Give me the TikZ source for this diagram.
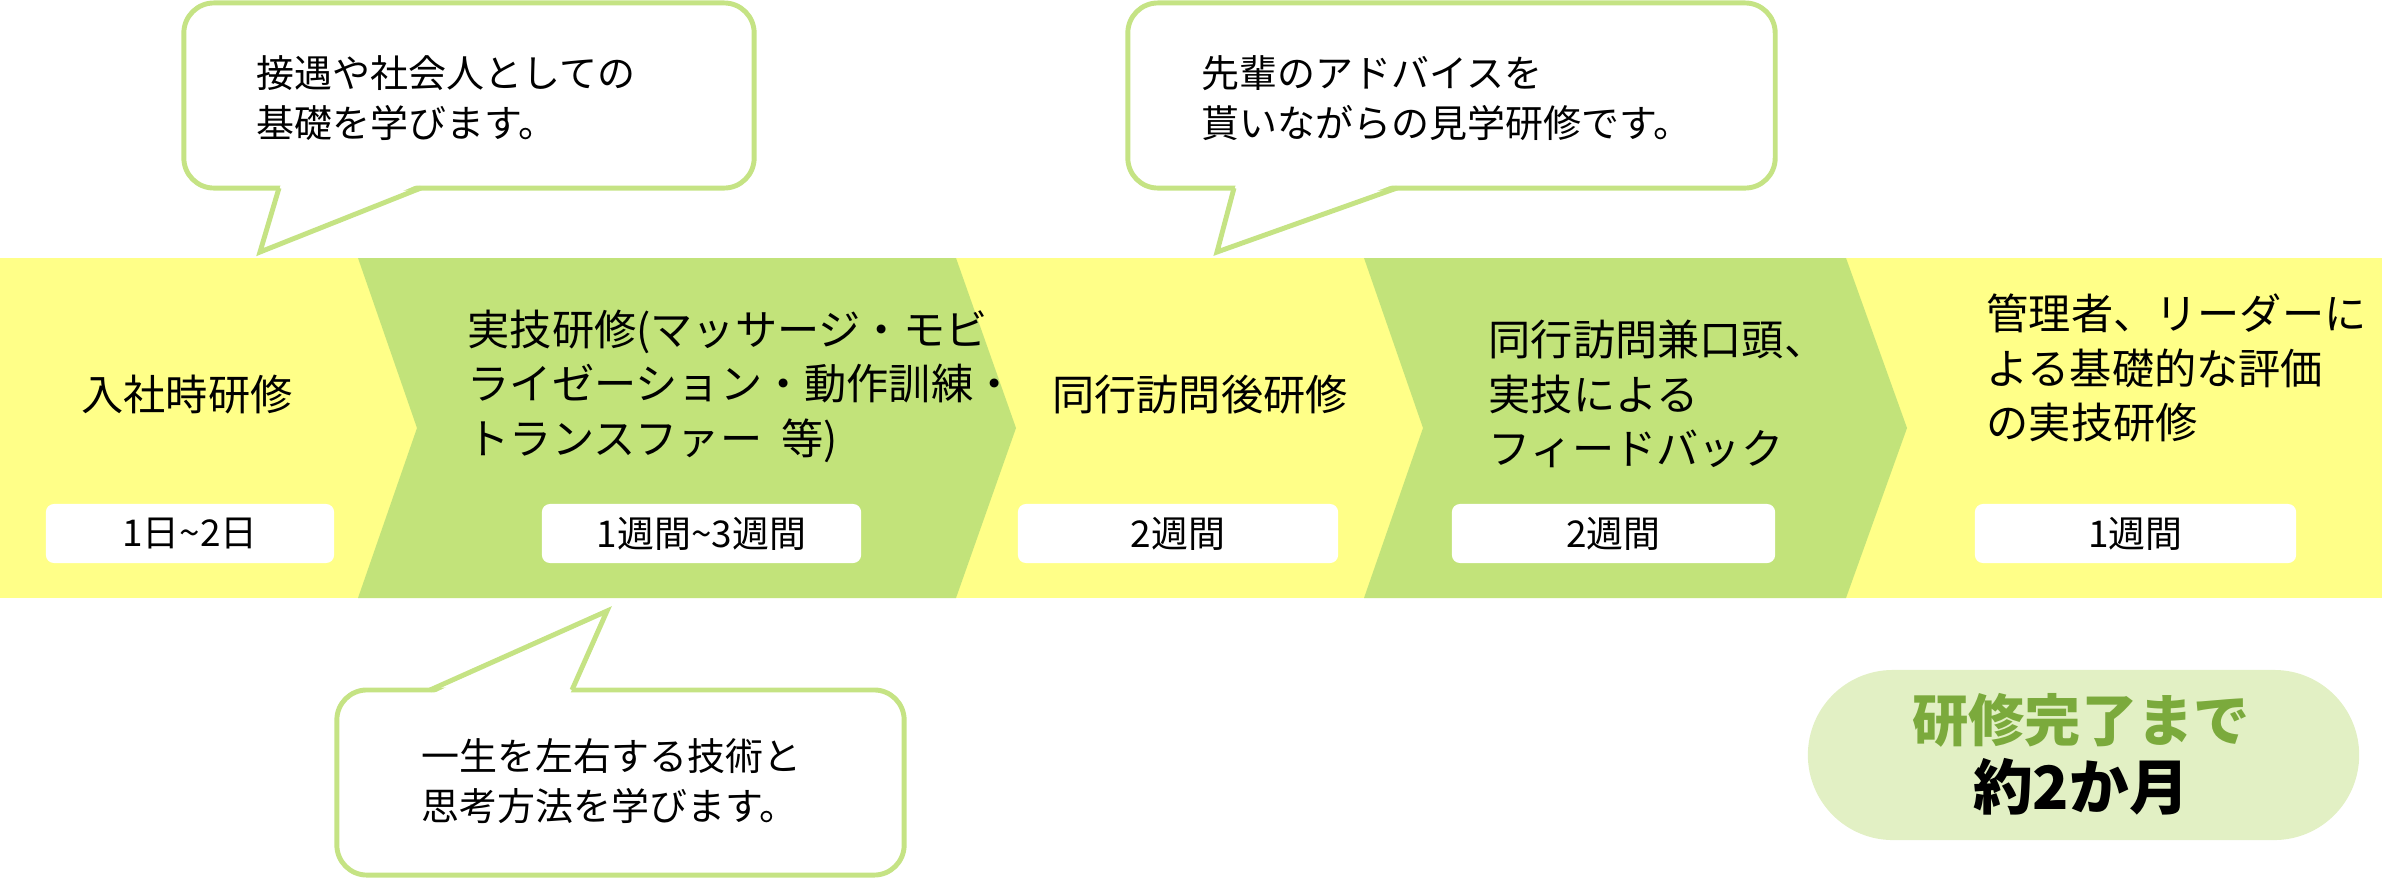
\documentclass[tikz,border=0pt]{standalone}
\usepackage{fontspec}
\setmainfont{Noto Sans CJK JP}
\definecolor{bandY}{HTML}{FFFF88}
\definecolor{bandG}{HTML}{C2E37A}
\definecolor{lineG}{HTML}{C5E384}
\definecolor{pillG}{HTML}{E2F0C4}
\definecolor{txtG}{HTML}{7BAA3C}
\tikzset{
  stagetxt/.style={font=\fontsize{12}{15.5}\selectfont, align=left, inner sep=0pt},
  lbl/.style={fill=white, rounded corners=0.08cm, inner sep=0pt, font=\fontsize{10.5}{12}\selectfont},
  callout/.style={draw=lineG, line width=1.4pt, fill=white, rounded corners=0.3cm, inner sep=0pt},
  calltxt/.style={font=\fontsize{10.8}{14.3}\selectfont, align=left, inner sep=0pt, anchor=west},
}
\begin{document}
\begin{tikzpicture}[x=0.01cm,y=-0.01cm]
\useasboundingbox (0,0) rectangle (2382,878);
% band
\fill[bandY] (0,258) rectangle (2382,598);
\fill[bandG] (358,258) -- (956,258) -- (1016,428) -- (956,598) -- (358,598) -- (417,428) -- cycle;
\fill[bandG] (1364,258) -- (1846,258) -- (1907,428) -- (1846,598) -- (1364,598) -- (1423,428) -- cycle;
% stage titles
\node[stagetxt] (s1) at (187,395) {入社時研修};
\node[stagetxt, anchor=west] (s2) at (467,386) {実技研修(マッサージ・モビ\\ライゼーション・動作訓練・\\トランスファー\ \ 等)};
\node[stagetxt] (s3) at (1200,395) {同行訪問後研修};
\node[stagetxt, anchor=west] (s4) at (1488,394) {同行訪問兼口頭、\\実技による\\フィードバック};
\node[stagetxt, anchor=west] (s5) at (1986,368) {管理者、リーダーに\\よる基礎的な評価\\の実技研修};
% duration labels
\node[lbl, minimum width=2.88cm, minimum height=0.59cm] (d1) at (190,533.5) {1日\textasciitilde 2日};
\node[lbl, minimum width=3.19cm, minimum height=0.59cm] (d2) at (701.5,533.5) {1週間\textasciitilde 3週間};
\node[lbl, minimum width=3.20cm, minimum height=0.59cm] (d3) at (1178,533.5) {2週間};
\node[lbl, minimum width=3.23cm, minimum height=0.59cm] (d4) at (1613.5,533.5) {2週間};
\node[lbl, minimum width=3.21cm, minimum height=0.59cm] (d5) at (2135.5,533.5) {1週間};
% callout 1
\node[callout, minimum width=5.70cm, minimum height=1.85cm] (c1) at (469,95.5) {};
\coordinate (t1) at (260,252);
\fill[white] (281,184) -- (t1) -- (419,184) -- cycle;
\draw[lineG, line width=1.4pt, line join=miter] (279,188) -- (t1) -- (421,188);
\node[calltxt] (c1t) at (256,98) {接遇や社会人としての\\基礎を学びます。};
% callout 2
\node[callout, minimum width=6.47cm, minimum height=1.85cm] (c2) at (1451.5,95.5) {};
\coordinate (t2) at (1217,252);
\fill[white] (1236,184) -- (t2) -- (1395,184) -- cycle;
\draw[lineG, line width=1.4pt, line join=miter] (1234,188) -- (t2) -- (1397,188);
\node[calltxt] (c2t) at (1201,98) {先輩のアドバイスを\\貰いながらの見学研修です。};
% callout 3
\node[callout, minimum width=5.67cm, minimum height=1.85cm] (c3) at (620.5,782.5) {};
\coordinate (t3) at (607,611);
\fill[white] (432,694) -- (t3) -- (570,694) -- cycle;
\draw[lineG, line width=1.4pt, line join=miter] (430,690) -- (t3) -- (572,690);
\node[calltxt] (c3t) at (421,781) {一生を左右する技術と\\思考方法を学びます。};
% pill
\node[fill=pillG, rounded corners=0.85cm, minimum width=5.51cm, minimum height=1.70cm, inner sep=0pt] (p) at (2083.5,755) {};
\node[font=\fontsize{16}{18}\selectfont\bfseries, text=txtG, inner sep=0pt] (p1) at (2081,720) {研修完了まで};
\node[font=\fontsize{17}{18}\selectfont\bfseries, inner sep=0pt] (p2) at (2081,787) {約2か月};
\end{tikzpicture}
\end{document}
